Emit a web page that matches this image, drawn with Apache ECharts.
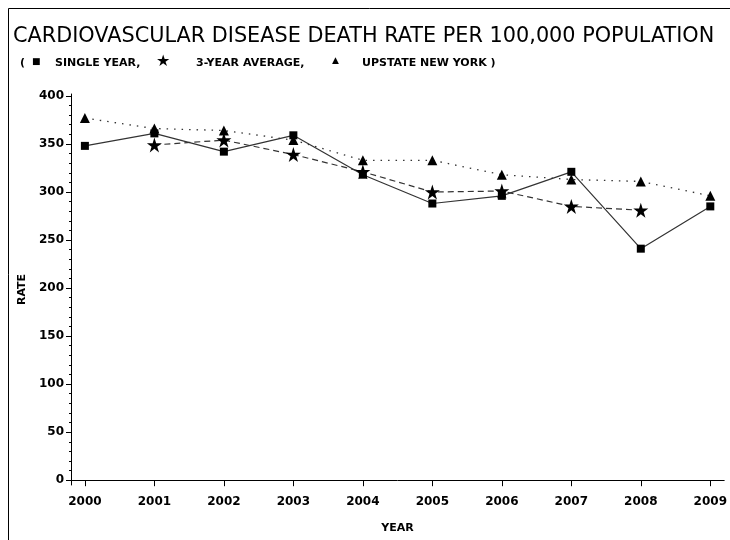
<!DOCTYPE html>
<html>
<head>
<meta charset="utf-8">
<script src="https://cdn.jsdelivr.net/npm/echarts@6/dist/echarts.min.js"></script>
<style>html,body{margin:0;padding:0;background:#fff;}#c{width:730px;height:540px;}</style>
</head>
<body>
<div id="c"></div>
<script>
var years = [2000, 2001, 2002, 2003, 2004, 2005, 2006, 2007, 2008, 2009];
var singleYear = [348, 361, 342, 359, 318, 288, 296, 321, 241, 285];
var threeYearAvg = [null, 349, 354, 339, 321, 300, 301, 285, 281, null];
var upstateNY = [377, 366, 364, 354, 333, 333, 318, 313, 311, 296];
var yTicks = [0, 50, 100, 150, 200, 250, 300, 350, 400];
var yMinorTicks = [];
for (var v = 0; v <= 400; v += 10) { if (v % 50 !== 0) yMinorTicks.push(v); }

var STAR = 'path://M50,0 L61.2,34.5 L97.6,34.5 L68.2,55.9 L79.4,90.5 L50,69.1 L20.6,90.5 L31.8,55.9 L2.4,34.5 L38.8,34.5 Z';
function pairs(arr) { return years.map(function (y, i) { return [y, arr[i]]; }); }

var FONT = 'DejaVu Sans';
var LF = 'bold 11px "DejaVu Sans"';
function t(x, y, txt, font) {
  return { type: 'text', x: x, y: y, silent: true, style: { text: txt, font: font, fill: '#000', verticalAlign: 'middle' } };
}
var chart = echarts.init(document.getElementById('c'));
chart.setOption({
  animation: false,
  backgroundColor: '#fff',
  graphic: [
    { type: 'rect', shape: { x: 8.5, y: 8.5, width: 740, height: 560 }, style: { fill: 'none', stroke: '#000', lineWidth: 1 }, silent: true },
    t(13, 37, 'CARDIOVASCULAR DISEASE DEATH RATE PER 100,000 POPULATION', '20.8px "DejaVu Sans"'),
    t(20, 63, '(', LF),
    t(32, 62, '■', '9px "DejaVu Sans"'),
    t(55, 63, 'SINGLE YEAR,', LF),
    t(156, 62, '★', '16px "DejaVu Sans"'),
    t(196, 63, '3-YEAR AVERAGE,', LF),
    t(332, 61, '▲', '9px "DejaVu Sans"'),
    t(362, 63, 'UPSTATE NEW YORK )', LF)
  ],
  grid: { left: 71, right: 2, top: 94, bottom: 55, containLabel: false },
  xAxis: {
    type: 'value', min: 1999.8, max: 2009.2,
    name: 'YEAR', nameLocation: 'middle', nameGap: 38,
    nameTextStyle: { fontFamily: FONT, fontWeight: 'bold', fontSize: 11, color: '#000' },
    axisLine: { show: true, lineStyle: { color: '#000', width: 1 } },
    axisTick: { show: true, length: 6, customValues: years, lineStyle: { color: '#000' } },
    axisLabel: { customValues: years, formatter: function (v) { return String(Math.round(v)); }, fontFamily: FONT, fontWeight: 'bold', fontSize: 12, color: '#000', margin: 11 },
    splitLine: { show: false }
  },
  yAxis: [{
    type: 'value', min: -5, max: 402,
    name: 'RATE', nameLocation: 'middle', nameGap: 40, nameRotate: 90,
    nameTextStyle: { fontFamily: FONT, fontWeight: 'bold', fontSize: 11, color: '#000' },
    axisLine: { show: true, lineStyle: { color: '#000', width: 1 } },
    axisTick: { show: true, length: 5, customValues: yTicks, lineStyle: { color: '#000' } },
    axisLabel: { customValues: yTicks, fontFamily: FONT, fontWeight: 'bold', fontSize: 12, color: '#000', margin: 7 },
    splitLine: { show: false }
  }, {
    type: 'value', min: -5, max: 402, position: 'left',
    axisLine: { show: false },
    axisTick: { show: true, length: 2, customValues: yMinorTicks, lineStyle: { color: '#000' } },
    axisLabel: { show: false },
    splitLine: { show: false }
  }],
  series: [
    { name: 'SINGLE YEAR', type: 'line', data: pairs(singleYear), symbol: 'rect', symbolSize: 8,
      itemStyle: { color: '#000' }, lineStyle: { color: '#333', width: 1.2, type: 'solid' } },
    { name: '3-YEAR AVERAGE', type: 'line', data: pairs(threeYearAvg), symbol: STAR, symbolSize: 15,
      connectNulls: false,
      itemStyle: { color: '#000' }, lineStyle: { color: '#333', width: 1.2, type: [6, 4] } },
    { name: 'UPSTATE NEW YORK', type: 'line', data: pairs(upstateNY), symbol: 'triangle', symbolSize: 10,
      itemStyle: { color: '#000' }, lineStyle: { color: '#333', width: 1.3, type: [1.5, 6] } }
  ]
});
</script>
</body>
</html>
